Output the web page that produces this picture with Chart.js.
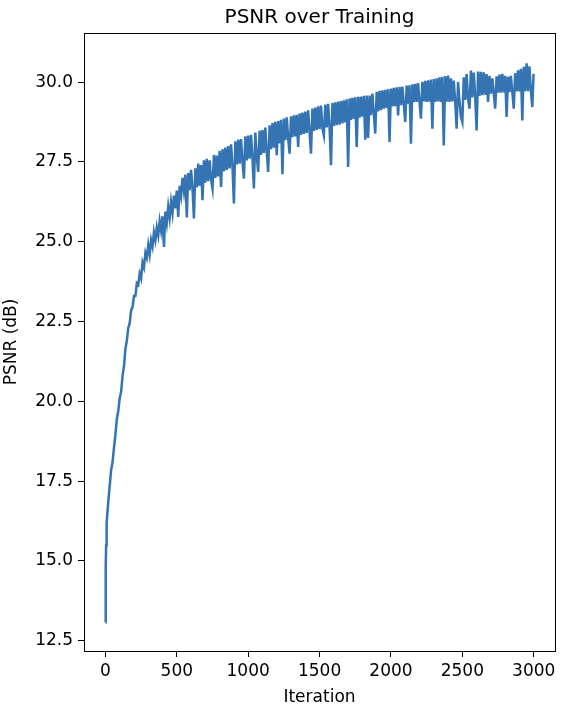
<!doctype html>
<html>
<head>
<meta charset="utf-8">
<title>PSNR over Training</title>
<script src="https://cdn.jsdelivr.net/npm/chart.js@4.4.1/dist/chart.umd.min.js"></script>
<style>
  html, body { margin: 0; padding: 0; background: #fff; }
  #wrap { width: 566px; height: 714px; }
</style>
</head>
<body>
<div id="wrap"><canvas id="chart"></canvas></div>
<script>
// values (iteration -> PSNR in dB)
var iterations = [0, 1, 3, 5, 7,
  10, 20, 30, 40, 50, 60, 70, 80, 90,
  100, 110, 120, 130, 140, 150, 160, 170, 180, 190,
  200, 210, 220, 230, 240, 250, 260, 270, 280, 290,
  300, 310, 320, 330, 340, 350, 360, 370, 380, 390,
  400, 410, 420, 430, 440, 450, 460, 470, 480, 490,
  500, 510, 520, 530, 540, 550, 560, 570, 580, 590,
  600, 610, 620, 630, 640, 650, 660, 670, 680, 690,
  700, 710, 720, 730, 740, 750, 760, 770, 780, 790,
  800, 810, 820, 830, 840, 850, 860, 870, 880, 890,
  900, 910, 920, 930, 940, 950, 960, 970, 980, 990,
  1000, 1010, 1020, 1030, 1040, 1050, 1060, 1070, 1080, 1090,
  1100, 1110, 1120, 1130, 1140, 1150, 1160, 1170, 1180, 1190,
  1200, 1210, 1220, 1230, 1240, 1250, 1260, 1270, 1280, 1290,
  1300, 1310, 1320, 1330, 1340, 1350, 1360, 1370, 1380, 1390,
  1400, 1410, 1420, 1430, 1440, 1450, 1460, 1470, 1480, 1490,
  1500, 1510, 1520, 1530, 1540, 1550, 1560, 1570, 1580, 1590,
  1600, 1610, 1620, 1630, 1640, 1650, 1660, 1670, 1680, 1690,
  1700, 1710, 1720, 1730, 1740, 1750, 1760, 1770, 1780, 1790,
  1800, 1810, 1820, 1830, 1840, 1850, 1860, 1870, 1880, 1890,
  1900, 1910, 1920, 1930, 1940, 1950, 1960, 1970, 1980, 1990,
  2000, 2010, 2020, 2030, 2040, 2050, 2060, 2070, 2080, 2090,
  2100, 2110, 2120, 2130, 2140, 2150, 2160, 2170, 2180, 2190,
  2200, 2210, 2220, 2230, 2240, 2250, 2260, 2270, 2280, 2290,
  2300, 2310, 2320, 2330, 2340, 2350, 2360, 2370, 2380, 2390,
  2400, 2410, 2420, 2430, 2440, 2450, 2460, 2470, 2480, 2490,
  2500, 2510, 2520, 2530, 2540, 2550, 2560, 2570, 2580, 2590,
  2600, 2610, 2620, 2630, 2640, 2650, 2660, 2670, 2680, 2690,
  2700, 2710, 2720, 2730, 2740, 2750, 2760, 2770, 2780, 2790,
  2800, 2810, 2820, 2830, 2840, 2850, 2860, 2870, 2880, 2890,
  2900, 2910, 2920, 2930, 2940, 2950, 2960, 2970, 2980, 2990,
  2999];

var psnr = [13.08, 14.6, 14.8, 15.5, 15.9,
  16.2, 16.85, 17.35, 17.85, 18.1, 18.55, 18.95, 19.45, 19.7,
  20.1, 20.3, 20.8, 21.1, 21.65, 21.9, 22.3, 22.45, 22.85, 22.95,
  23.3, 23.3, 23.7, 23.65, 24.0, 23.85, 24.35, 24.2, 24.65, 24.5,
  24.9, 24.6, 25.05, 24.85, 25.3, 25.05, 25.45, 25.2, 25.65, 25.35,
  25.8, 24.84, 25.95, 25.6, 26.1, 25.75, 26.25, 25.9, 26.45, 26.05,
  26.6, 25.78, 26.75, 26.45, 27.0, 26.6, 27.1, 25.76, 27.15, 26.62,
  27.25, 26.68, 25.73, 27.3, 26.7, 27.45, 26.75, 27.4, 26.3, 27.55,
  26.85, 27.6, 26.9, 27.55, 26.95, 26.67, 27.72, 27.0, 27.7, 27.05,
  27.85, 26.72, 27.9, 27.2, 27.95, 27.25, 28.0, 27.3, 28.05, 27.35,
  26.2, 28.15, 27.42, 28.2, 27.45, 28.22, 27.5, 26.98, 28.3, 27.55,
  28.33, 27.6, 28.35, 27.62, 26.67, 28.42, 27.68, 27.19, 28.48, 27.72,
  28.5, 27.78, 28.58, 27.82, 27.19, 28.65, 27.9, 28.72, 27.95, 28.76,
  27.71, 28.78, 28.08, 28.82, 27.12, 28.86, 28.18, 28.9, 28.24, 27.76,
  28.93, 28.28, 28.96, 28.3, 28.98, 27.97, 29.02, 28.35, 29.05, 28.38,
  29.08, 28.41, 29.12, 28.44, 27.76, 29.17, 28.47, 29.2, 28.5, 29.24,
  28.53, 29.27, 28.55, 28.33, 29.3, 28.58, 29.32, 28.6, 27.4, 29.35,
  28.63, 29.37, 28.65, 29.39, 28.67, 29.41, 28.71, 29.43, 28.74, 29.46,
  27.34, 29.49, 28.82, 29.51, 28.85, 29.53, 27.97, 29.54, 28.89, 29.55,
  28.92, 29.57, 28.2, 29.58, 28.25, 29.58, 28.97, 29.64, 29.0, 28.39,
  29.7, 29.08, 29.73, 29.12, 29.74, 29.17, 29.76, 29.19, 29.78, 28.13,
  29.8, 29.24, 29.82, 29.25, 29.84, 28.96, 29.85, 29.28, 29.86, 29.3,
  28.75, 29.89, 29.33, 29.9, 28.07, 29.93, 29.37, 29.95, 29.38, 29.97,
  29.38, 28.86, 30.01, 29.4, 30.04, 29.38, 30.06, 29.39, 30.08, 28.54,
  30.1, 29.38, 30.12, 29.4, 30.15, 29.38, 30.17, 28.02, 30.19, 29.39,
  30.21, 29.38, 30.12, 29.4, 30.05, 29.4, 28.54, 30.0, 29.42, 28.91,
  28.75, 30.15, 29.44, 30.25, 29.48, 29.17, 30.36, 29.52, 30.3, 29.54,
  28.49, 30.33, 29.57, 30.32, 29.59, 30.31, 29.61, 30.25, 29.38, 30.2,
  29.64, 30.12, 29.65, 29.17, 30.18, 29.67, 30.24, 29.67, 30.26, 29.68,
  30.2, 28.91, 30.17, 29.69, 30.2, 29.7, 29.17, 30.28, 29.71, 30.37,
  29.71, 30.42, 28.8, 30.48, 29.72, 30.59, 29.72, 30.5, 29.73, 29.22,
  30.26];

var xTicks = [0, 500, 1000, 1500, 2000, 2500, 3000];
var yTicks = [12.5, 15.0, 17.5, 20.0, 22.5, 25.0, 27.5, 30.0];

var points = [];
for (var i = 0; i < iterations.length; i++) {
  points.push({ x: iterations[i], y: psnr[i] });
}

var FONT = 'DejaVu Sans';

// frame round the plot area plus the title, matplotlib style
var framePlugin = {
  id: 'frame',
  afterDraw: function (chart) {
    var a = chart.chartArea;
    var ctx = chart.ctx;
    ctx.save();
    ctx.strokeStyle = '#000';
    ctx.lineWidth = 1;
    ctx.strokeRect(Math.round(a.left) + 0.5, Math.round(a.top) + 0.5,
      Math.round(a.right - a.left), Math.round(a.bottom - a.top));
    ctx.fillStyle = '#000';
    ctx.font = '20px "' + FONT + '"';
    ctx.textAlign = 'center';
    ctx.textBaseline = 'alphabetic';
    ctx.fillText('PSNR over Training', (a.left + a.right) / 2, 23);
    ctx.restore();
  }
};

new Chart(document.getElementById('chart').getContext('2d'), {
  type: 'line',
  data: {
    datasets: [{
      label: 'PSNR',
      data: points,
      borderColor: '#3574b2',
      borderWidth: 2.5,
      pointRadius: 0,
      fill: false,
      tension: 0
    }]
  },
  options: {
    responsive: true,
    maintainAspectRatio: false,
    animation: false,
    parsing: false,
    layout: { padding: { top: 33, right: 11, left: 0, bottom: 0 } },
    plugins: {
      legend: { display: false },
      tooltip: { enabled: false }
    },
    scales: {
      x: {
        type: 'linear',
        min: -150,
        max: 3149,
        afterBuildTicks: function (s) { s.ticks = xTicks.map(function (v) { return { value: v }; }); },
        afterFit: function (s) { s.height = 63; },
        grid: { display: true, drawOnChartArea: false, drawTicks: true, tickLength: 6, color: '#000' },
        border: { display: false },
        ticks: {
          color: '#000', font: { family: FONT, size: 17 }, padding: 4, maxRotation: 0,
          callback: function (v) { return String(v); }
        },
        title: { display: true, text: 'Iteration', color: '#000', font: { family: FONT, size: 17 }, padding: { top: 0, bottom: 6 } }
      },
      y: {
        type: 'linear',
        min: 12.18,
        max: 31.54,
        afterBuildTicks: function (s) { s.ticks = yTicks.map(function (v) { return { value: v }; }); },
        afterFit: function (s) { s.width = 84; },
        grid: { display: true, drawOnChartArea: false, drawTicks: true, tickLength: 6, color: '#000' },
        border: { display: false },
        ticks: {
          color: '#000', font: { family: FONT, size: 17 }, padding: 5,
          callback: function (v) { return Number(v).toFixed(1); }
        },
        title: { display: true, text: 'PSNR (dB)', color: '#000', font: { family: FONT, size: 17 }, padding: { top: 1, bottom: 0 } }
      }
    }
  },
  plugins: [framePlugin]
});
</script>
</body>
</html>
